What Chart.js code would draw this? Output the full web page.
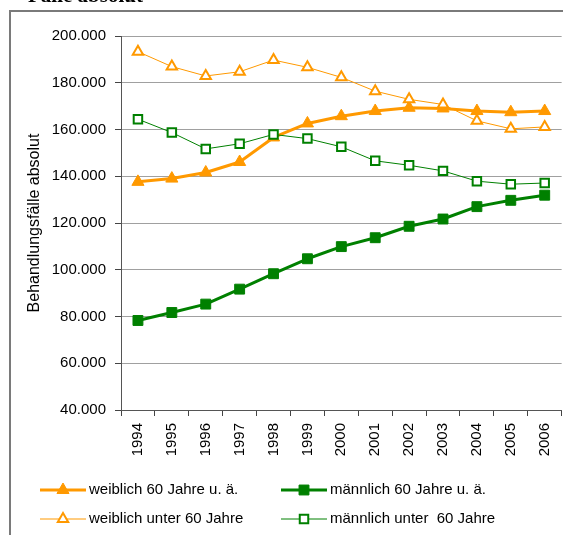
<!DOCTYPE html>
<html>
<head>
<meta charset="utf-8">
<script src="https://cdn.jsdelivr.net/npm/chart.js@4.4.1/dist/chart.umd.min.js"></script>
<style>
  html, body { margin: 0; padding: 0; width: 563px; height: 535px; overflow: hidden; background: #fff; }
  #frame { position: absolute; left: 9px; top: 10px; width: 700px; height: 700px; border: 2px solid #7a7a7a; }
  #wrap { position: absolute; left: 0; top: 0; width: 570px; height: 535px; }
</style>
</head>
<body>
<div id="frame"></div>
<div id="wrap"><canvas id="chart"></canvas></div>
<script>
// categories
const years = ['1994', '1995', '1996', '1997', '1998', '1999', '2000',
               '2001', '2002', '2003', '2004', '2005', '2006'];

// Behandlungsfälle absolut
const weiblich60plus   = [137600, 139000, 141600, 146100, 156600, 162600, 165700, 167900, 169300, 169000, 167900, 167400, 167900];
const maennlich60plus  = [78300, 81700, 85300, 91700, 98300, 104700, 109900, 113700, 118600, 121700, 127000, 129700, 131900];
const weiblichUnter60  = [193300, 186900, 182900, 184700, 189700, 186600, 182300, 176400, 172900, 170700, 163700, 160300, 161100];
const maennlichUnter60 = [164400, 158700, 151700, 153900, 157900, 156100, 152600, 146600, 144700, 142300, 137900, 136600, 137100];

const seriesNames = ['weiblich 60 Jahre u. ä.', 'männlich 60 Jahre u. ä.',
                     'weiblich unter 60 Jahre', 'männlich unter  60 Jahre'];

const ORANGE = '#ff9900';
const GREEN = '#008000';
const FONT = '"Liberation Sans", Arial, sans-serif';

// german thousands separator
function fmt(v) {
    return String(v).replace(/\B(?=(\d{3})+(?!\d))/g, '.');
}

// line + marker legend in two columns, like the excel one
const excelLegend = {
    id: 'excelLegend',
    afterDraw(chart) {
        const ctx = chart.ctx;
        const cols = [40, 281];
        const rows = [490, 519];
        const lineLen = 46;
        chart.data.datasets.forEach((ds, i) => {
            const x = cols[i % 2];
            const y = rows[Math.floor(i / 2)];
            ctx.save();
            ctx.strokeStyle = ds.borderColor;
            ctx.lineWidth = ds.borderWidth;
            ctx.beginPath();
            ctx.moveTo(x, y);
            ctx.lineTo(x + lineLen, y);
            ctx.stroke();
            ctx.fillStyle = ds.pointBackgroundColor;
            ctx.strokeStyle = ds.pointBorderColor;
            ctx.lineWidth = ds.pointBorderWidth;
            Chart.helpers.drawPoint(ctx, {
                pointStyle: ds.pointStyle,
                radius: ds.pointRadius,
                rotation: 0,
                borderWidth: ds.pointBorderWidth
            }, x + lineLen / 2, y);
            ctx.fillStyle = '#000';
            ctx.font = '15px ' + FONT;
            ctx.textBaseline = 'middle';
            ctx.textAlign = 'left';
            ctx.fillText(ds.label, x + lineLen + 3, y);
            ctx.restore();
        });

        // the cut off heading above the frame
        ctx.save();
        ctx.fillStyle = '#000';
        ctx.font = 'bold 21px "Liberation Serif", "Times New Roman", serif';
        ctx.textBaseline = 'alphabetic';
        ctx.fillText('Fälle absolut', 28, 2);
        ctx.restore();
    }
};

const ctx = document.getElementById('chart').getContext('2d');
const chart = new Chart(ctx, {
    type: 'line',
    data: {
        labels: years,
        datasets: [{
            label: seriesNames[0],
            data: weiblich60plus,
            borderColor: ORANGE,
            borderWidth: 3,
            pointStyle: 'triangle',
            pointRadius: 7,
            pointBackgroundColor: ORANGE,
            pointBorderColor: ORANGE,
            pointBorderWidth: 1,
            order: 3
        }, {
            label: seriesNames[1],
            data: maennlich60plus,
            borderColor: GREEN,
            borderWidth: 3,
            pointStyle: 'rect',
            pointRadius: 7,
            pointBackgroundColor: GREEN,
            pointBorderColor: GREEN,
            pointBorderWidth: 1,
            order: 4
        }, {
            label: seriesNames[2],
            data: weiblichUnter60,
            borderColor: ORANGE,
            borderWidth: 1,
            pointStyle: 'triangle',
            pointRadius: 6,
            pointBackgroundColor: '#fff',
            pointBorderColor: ORANGE,
            pointBorderWidth: 2,
            order: 2
        }, {
            label: seriesNames[3],
            data: maennlichUnter60,
            borderColor: GREEN,
            borderWidth: 1,
            pointStyle: 'rect',
            pointRadius: 6,
            pointBackgroundColor: '#fff',
            pointBorderColor: GREEN,
            pointBorderWidth: 2,
            order: 1
        }]
    },
    options: {
        responsive: true,
        maintainAspectRatio: false,
        animation: false,
        devicePixelRatio: 1,
        layout: { padding: { top: 36, right: 6, bottom: 65, left: 0 } },
        elements: { line: { tension: 0, borderJoinStyle: 'round' } },
        plugins: {
            legend: { display: false },
            tooltip: { enabled: false }
        },
        scales: {
            x: {
                offset: true,
                grid: {
                    offset: true,
                    drawOnChartArea: false,
                    drawTicks: true,
                    tickLength: 6,
                    tickColor: '#444'
                },
                border: { color: '#555', width: 1 },
                ticks: {
                    color: '#000',
                    font: { family: FONT, size: 15 },
                    minRotation: 90,
                    maxRotation: 90,
                    padding: 7,
                    autoSkip: false
                },
                afterFit(scale) { scale.height = 60; }
            },
            y: {
                min: 40000,
                max: 200000,
                grid: {
                    color: '#a0a0a0',
                    tickColor: '#444',
                    tickLength: 6
                },
                border: { color: '#555', width: 1 },
                ticks: {
                    stepSize: 20000,
                    color: '#000',
                    font: { family: FONT, size: 15 },
                    padding: 9,
                    callback: (v) => fmt(v)
                },
                title: {
                    display: true,
                    text: 'Behandlungsfälle absolut',
                    color: '#000',
                    font: { family: FONT, size: 16 },
                    padding: { top: 25, bottom: 0 }
                },
                afterFit(scale) { scale.width = 121; }
            }
        }
    },
    plugins: [excelLegend]
});
</script>
</body>
</html>
